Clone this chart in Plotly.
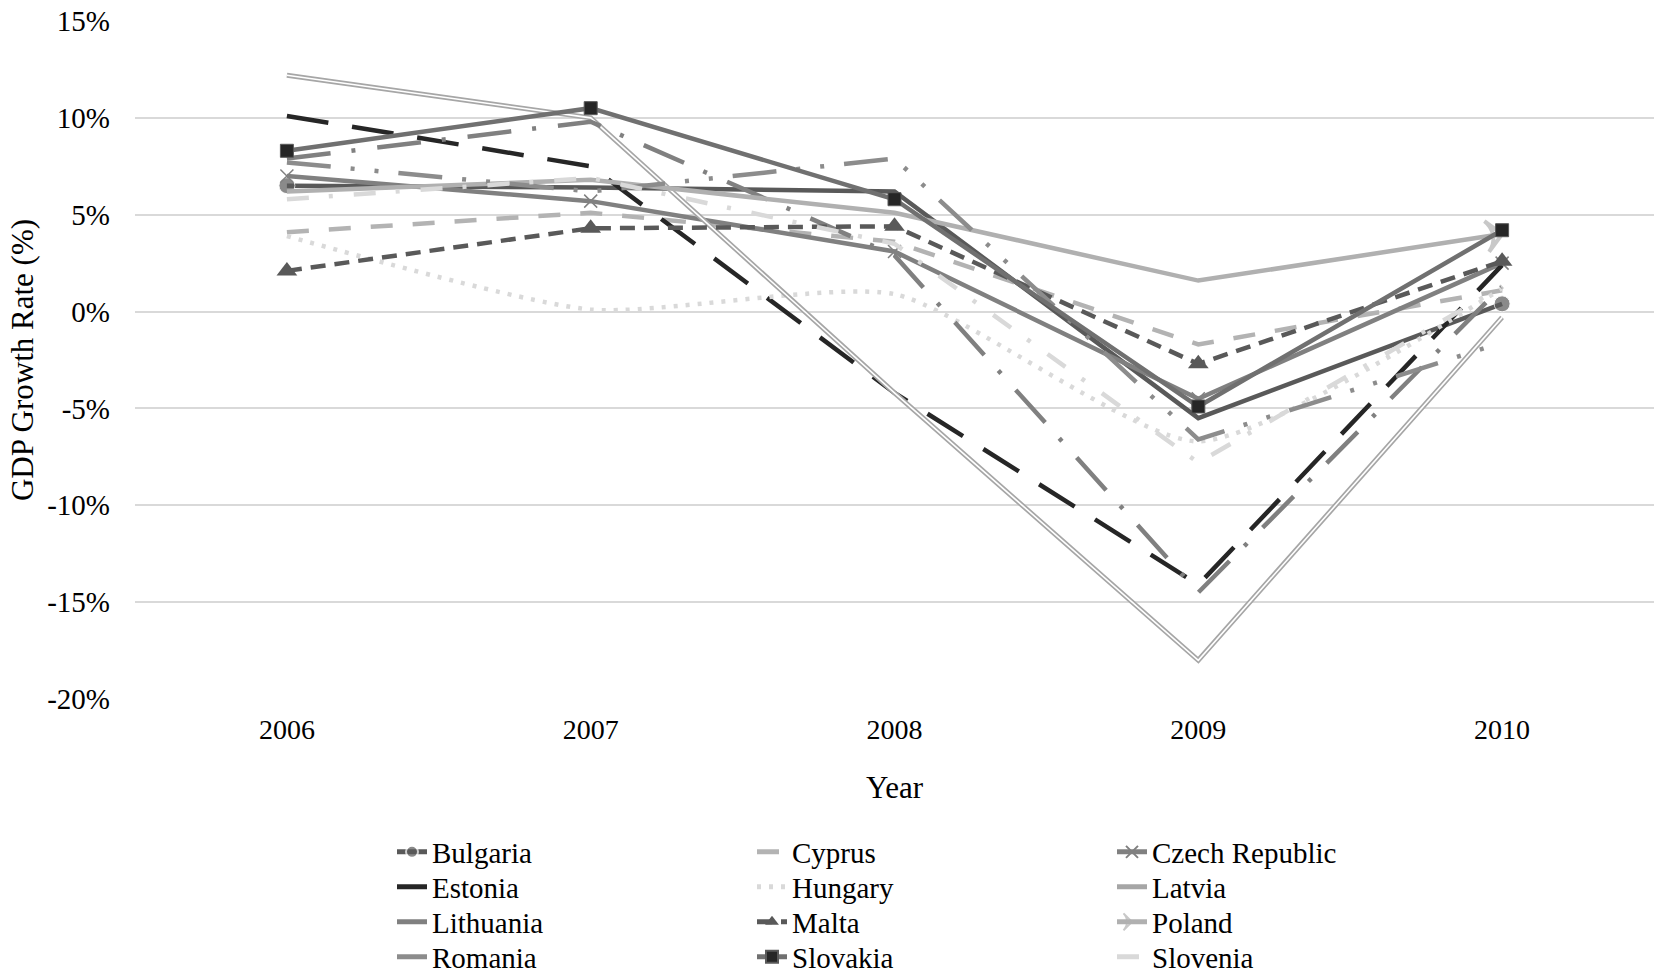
import plotly.graph_objects as go

# GDP growth rate (%) by year
years = ["2006", "2007", "2008", "2009", "2010"]

bulgaria = [6.5, 6.4, 6.2, -5.5, 0.4]
cyprus = [4.1, 5.1, 3.6, -1.7, 1.1]
czech_republic = [7.0, 5.7, 3.1, -4.5, 2.5]
estonia = [10.1, 7.5, -4.2, -14.1, 2.4]
hungary = [3.9, 0.1, 0.9, -6.7, 1.2]
latvia = [12.2, 10.0, -4.2, -18.0, -0.3]
lithuania = [7.9, 9.8, 2.9, -14.5, 1.3]
malta = [2.1, 4.3, 4.4, -2.7, 2.6]
poland = [6.2, 6.8, 5.1, 1.6, 4.0]
romania = [7.7, 6.2, 7.9, -6.6, -1.6]
slovakia = [8.3, 10.5, 5.8, -4.9, 4.2]
slovenia = [5.8, 6.9, 3.5, -7.8, 1.3]

y_ticks = [-20, -15, -10, -5, 0, 5, 10, 15]
y_tick_text = ["-20%", "-15%", "-10%", "-5%", "0%", "5%", "10%", "15%"]

FONT = "Liberation Serif, Times New Roman, serif"

fig = go.Figure()


def endpoints(value, n):
    # marker only on first and last point
    return [value] + [0] * (n - 2) + [value]


n = len(years)

series = [
    dict(name="Bulgaria", y=bulgaria, line=dict(color="#595959", width=4.5),
         mode="lines+markers",
         marker=dict(symbol="circle", size=endpoints(16, n), color="#595959")),
    dict(name="Cyprus", y=cyprus, line=dict(color="#b3b3b3", width=4.5, dash="22px,20px"),
         mode="lines"),
    dict(name="Czech Republic", y=czech_republic, line=dict(color="#808080", width=4.5),
         mode="lines+markers",
         marker=dict(symbol="x-thin", size=13, color="#808080",
                     line=dict(color="#808080", width=1.5))),
    dict(name="Estonia", y=estonia, line=dict(color="#262626", width=4.5, dash="42px,24px"),
         mode="lines"),
    dict(name="Hungary", y=hungary, line=dict(color="#d9d9d9", width=4.5, dash="4px,8px",
                                              shape="spline", smoothing=0.6),
         mode="lines"),
    dict(name="Latvia", y=latvia, line=dict(color="#a6a6a6", width=5),
         mode="lines"),
    dict(name="Lithuania", y=lithuania,
         line=dict(color="#808080", width=4.5, dash="44px,21px,4px,22px"),
         mode="lines"),
    dict(name="Malta", y=malta, line=dict(color="#595959", width=4.5, dash="15px,9px"),
         mode="lines+markers",
         marker=dict(symbol="triangle-up", size=18, color="#595959")),
    dict(name="Poland", y=poland, line=dict(color="#b0b0b0", width=4.5),
         mode="lines+markers",
         marker=dict(symbol="arrow-wide-open", size=endpoints(22, n),
                     angle=[-92, 0, 0, 0, 0], angleref="previous",
                     color="#b0b0b0", line=dict(color="#b0b0b0", width=4))),
    dict(name="Romania", y=romania,
         line=dict(color="#8c8c8c", width=4.5, dash="44px,20px,4px,20px,4px,20px"),
         mode="lines"),
    dict(name="Slovakia", y=slovakia, line=dict(color="#707070", width=4.5),
         mode="lines+markers",
         marker=dict(symbol="square", size=13, color="#262626",
                     line=dict(color="#595959", width=1))),
    dict(name="Slovenia", y=slovenia,
         line=dict(color="#d9d9d9", width=4.5, dash="22px,20px,4px,21px"),
         mode="lines"),
]

legend_ids = ["legend", "legend2", "legend3", "legend4"]

for i, s in enumerate(series):
    leg = legend_ids[i // 3]
    fig.add_trace(go.Scatter(x=years, legend=leg, **s))
    if s["name"] == "Latvia":
        # white core turns the Latvia line into a double line
        fig.add_trace(go.Scatter(x=years, y=latvia, mode="lines", showlegend=False,
                                 hoverinfo="skip",
                                 line=dict(color="#ffffff", width=1.6)))

W, H = 1654, 976
row_centers = [852, 887, 922, 957]

legend_common = dict(
    orientation="h",
    xref="container", yref="container",
    x=392 / W, xanchor="left", yanchor="middle",
    font=dict(family=FONT, size=29, color="#000000"),
    bgcolor="rgba(0,0,0,0)",
    entrywidth=315, entrywidthmode="pixels",
    itemsizing="constant",
    traceorder="normal",
)

layout_legends = {}
for k, lid in enumerate(legend_ids):
    layout_legends[lid] = dict(legend_common, y=1 - row_centers[k] / H)

fig.update_layout(
    width=W, height=H,
    margin=dict(l=135, r=0, t=21, b=277, autoexpand=False),
    paper_bgcolor="#ffffff", plot_bgcolor="#ffffff",
    font=dict(family=FONT, size=28, color="#000000"),
    showlegend=True,
    xaxis=dict(
        type="category", range=[-0.5, 4.5],
        showgrid=False, zeroline=False, showline=False, ticks="",
        ticklabelstandoff=11,
        tickfont=dict(family=FONT, size=28, color="#000000"),
        title=dict(text="Year", font=dict(family=FONT, size=31, color="#000000"),
                   standoff=32),
    ),
    yaxis=dict(
        range=[-20, 15], tickvals=y_ticks, ticktext=y_tick_text,
        showgrid=True, gridcolor="#d9d9d9", gridwidth=2,
        zeroline=False, showline=False, ticks="",
        ticklabelstandoff=24,
        tickfont=dict(family=FONT, size=29, color="#000000"),
        title=dict(text="GDP Growth Rate (%)",
                   font=dict(family=FONT, size=31, color="#000000"),
                   standoff=4),
    ),
    **layout_legends,
)

fig.write_html("out.html")
